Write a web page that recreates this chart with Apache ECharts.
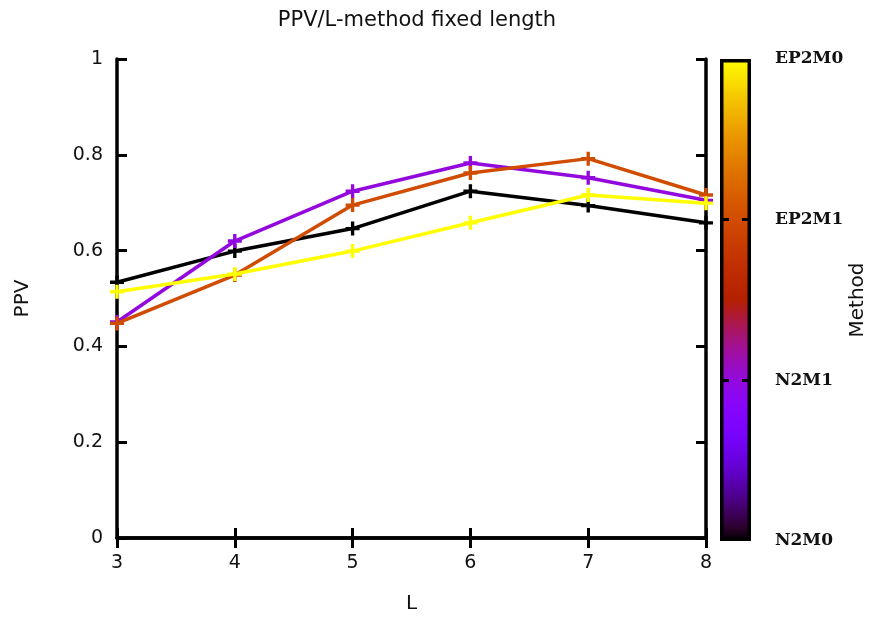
<!DOCTYPE html>
<html>
<head>
<meta charset="utf-8">
<script src="https://cdn.jsdelivr.net/npm/echarts@6/dist/echarts.min.js"></script>
<style>html,body{margin:0;padding:0;background:#fff;}#c{width:870px;height:619px;}</style>
</head>
<body>
<div id="c"></div>
<script>
// ---- data ----
const titleText = 'PPV/L-method fixed length';
const xName = 'L';
const yName = 'PPV';
const cbName = 'Method';
const lengths = [3, 4, 5, 6, 7, 8];
const methods = ['N2M0', 'N2M1', 'EP2M1', 'EP2M0'];
const methodValue = [0, 1, 2, 3];
const ppvN2M0  = [0.534, 0.599, 0.646, 0.724, 0.694, 0.658];
const ppvN2M1  = [0.451, 0.620, 0.724, 0.783, 0.752, 0.705];
const ppvEP2M1 = [0.448, 0.549, 0.695, 0.762, 0.792, 0.716];
const ppvEP2M0 = [0.514, 0.551, 0.599, 0.658, 0.716, 0.699];
const seriesValues = [ppvN2M0, ppvN2M1, ppvEP2M1, ppvEP2M0];

// gnuplot palette rgbformulae 7,5,15
function pal(t){
  const r = Math.sqrt(t), g = t*t*t, b = Math.max(0, Math.sin(2*Math.PI*t));
  const h = v => Math.round(Math.min(1,Math.max(0,v))*255).toString(16).padStart(2,'0');
  return '#' + h(r) + h(g) + h(b);
}
const stops = [];
for (let i = 0; i <= 40; i++) { const t = i/40; stops.push({offset: t, color: pal(t)}); }

const plus = 'path://M3.8,0 H6.2 V3.8 H10 V6.2 H6.2 V10 H3.8 V6.2 H0 V3.8 H3.8 Z';
const font = 'DejaVu Sans';

const series = seriesValues.map((vals, i) => ({
  name: methods[i],
  type: 'line',
  xAxisIndex: 0, yAxisIndex: 0,
  data: lengths.map((x, j) => [x, vals[j]]),
  symbol: plus,
  symbolSize: 14,
  showSymbol: true,
  lineStyle: {width: 3.5, color: pal(methodValue[i]/3)},
  itemStyle: {color: pal(methodValue[i]/3)},
  z: 3 + i,
  animation: false
}));
series.push({
  type: 'bar',
  xAxisIndex: 2, yAxisIndex: 2,
  data: [3],
  barWidth: '100%',
  itemStyle: {
    color: {type: 'linear', x: 0, y: 1, x2: 0, y2: 0, colorStops: stops},
    borderColor: '#000', borderWidth: 3.5
  },
  animation: false,
  z: 2
});

const chart = echarts.init(document.getElementById('c'), null, {renderer: 'canvas'});
const tickStyle = {show: true, inside: true, length: 10, lineStyle: {color: '#000', width: 3}};
const axisLineStyle = {show: true, lineStyle: {color: '#000', width: 3.5}};
const cbTick = {show: true, inside: true, length: 9, customValues: [1, 2], lineStyle: {color: '#000', width: 3}};
chart.setOption({
  animation: false,
  backgroundColor: '#fff',
  title: {
    text: titleText, left: 412, top: 5, textAlign: 'center',
    textStyle: {fontFamily: font, fontSize: 21, fontWeight: 'normal', color: '#111'}
  },
  grid: [
    {left: 117, top: 59, width: 589, height: 481},
    {left: 720, top: 59, width: 31, height: 482}
  ],
  xAxis: [
    {gridIndex: 0, type: 'value', min: 3, max: 8, interval: 1, position: 'bottom',
     name: xName, nameLocation: 'middle', nameGap: 56,
     nameTextStyle: {fontFamily: font, fontSize: 20, color: '#111'},
     axisLine: axisLineStyle, axisTick: tickStyle, splitLine: {show: false},
     axisLabel: {fontFamily: font, fontSize: 19, color: '#111', margin: 16}},
    {gridIndex: 0, type: 'value', min: 3, max: 8, interval: 1, position: 'top',
     axisLine: axisLineStyle, axisTick: tickStyle, splitLine: {show: false},
     axisLabel: {show: false}},
    {gridIndex: 1, type: 'category', data: [''], show: false}
  ],
  yAxis: [
    {gridIndex: 0, type: 'value', min: 0, max: 1, interval: 0.2, position: 'left',
     name: yName, nameLocation: 'middle', nameGap: 84, nameRotate: 90,
     nameTextStyle: {fontFamily: font, fontSize: 20, color: '#111'},
     axisLine: axisLineStyle, axisTick: tickStyle, splitLine: {show: false},
     axisLabel: {fontFamily: font, fontSize: 19, color: '#111', margin: 14}},
    {gridIndex: 0, type: 'value', min: 0, max: 1, interval: 0.2, position: 'right',
     axisLine: axisLineStyle, axisTick: tickStyle, splitLine: {show: false},
     axisLabel: {show: false}},
    {gridIndex: 1, type: 'value', min: 0, max: 3, interval: 1, position: 'right', z: 10,
     name: cbName, nameLocation: 'middle', nameGap: 97, nameRotate: 90,
     nameTextStyle: {fontFamily: font, fontSize: 20, color: '#111'},
     axisLine: {show: false},
     axisTick: cbTick,
     splitLine: {show: false},
     axisLabel: {fontFamily: 'DejaVu Serif', fontWeight: 'bold', fontSize: 17, color: '#111', margin: 24,
       formatter: v => methods[methodValue.indexOf(v)] || ''}},
    {gridIndex: 1, type: 'value', min: 0, max: 3, interval: 1, position: 'left', z: 10,
     axisLine: {show: false},
     axisTick: cbTick,
     splitLine: {show: false}, axisLabel: {show: false}}
  ],
  series: series
});
</script>
</body>
</html>
